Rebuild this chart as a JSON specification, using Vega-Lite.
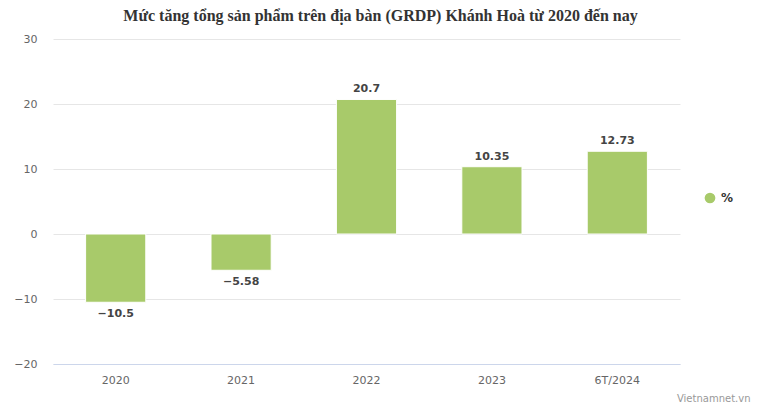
{
  "$schema": "https://vega.github.io/schema/vega-lite/v6.json",
  "width": 627,
  "height": 325,
  "autosize": {"type": "none"},
  "padding": {"left": 53, "top": 39, "right": 79, "bottom": 52},
  "background": "white",
  "title": {
    "text": "Mức tăng tổng sản phẩm trên địa bàn (GRDP) Khánh Hoà từ 2020 đến nay",
    "font": "Liberation Serif",
    "fontSize": 16,
    "fontWeight": "bold",
    "color": "#333333",
    "anchor": "middle",
    "dx": 14,
    "offset": 9
  },
  "config": {
    "view": {"stroke": null},
    "axis": {"labelFont": "DejaVu Sans", "labelFontSize": 11, "labelColor": "#666666", "ticks": false}
  },
  "data": {
    "values": [
      {"nam": "2020", "v": -10.5, "series": "%"},
      {"nam": "2021", "v": -5.58, "series": "%"},
      {"nam": "2022", "v": 20.7, "series": "%"},
      {"nam": "2023", "v": 10.35, "series": "%"},
      {"nam": "6T/2024", "v": 12.73, "series": "%"}
    ]
  },
  "encoding": {
    "x": {
      "field": "nam", "type": "nominal", "sort": null,
      "scale": {"paddingInner": 0.52, "paddingOuter": 0.26},
      "axis": {
        "labelAngle": 0, "labelPadding": 10, "domainColor": "#ccd6eb", "grid": false,
        "title": "Vietnamnet.vn", "titleFont": "DejaVu Sans", "titleFontSize": 10,
        "titleFontWeight": "normal", "titleColor": "#999999",
        "titleAnchor": "end", "titleAlign": "right", "titleX": 697, "titleY": 34, "titleBaseline": "middle"
      }
    },
    "y": {
      "field": "v", "type": "quantitative",
      "scale": {"domain": [-20, 30], "nice": false, "zero": false},
      "axis": {
        "values": [-20, -10, 0, 10, 20, 30], "title": null, "domain": false,
        "gridColor": "#e6e6e6", "labelPadding": 16, "format": "d"
      }
    }
  },
  "layer": [
    {
      "mark": {"type": "bar", "stroke": "white", "strokeWidth": 1},
      "encoding": {
        "color": {
          "field": "series", "type": "nominal",
          "scale": {"range": ["#a8ca6a"]},
          "legend": {
            "title": null, "orient": "none", "legendX": 650, "legendY": 152,
            "symbolType": "circle", "symbolSize": 150, "symbolOpacity": 1,
            "labelFont": "DejaVu Sans", "labelFontSize": 12, "labelFontWeight": "bold", "labelColor": "#333333"
          }
        }
      }
    },
    {
      "transform": [{"filter": "datum.v >= 0"}],
      "mark": {"type": "text", "baseline": "bottom", "dy": -5, "font": "DejaVu Sans", "fontSize": 11, "fontWeight": "bold", "stroke": "white", "strokeWidth": 3, "strokeJoin": "round", "fill": "white"},
      "encoding": {"text": {"field": "v", "type": "quantitative"}}
    },
    {
      "transform": [{"filter": "datum.v >= 0"}],
      "mark": {"type": "text", "baseline": "bottom", "dy": -5, "font": "DejaVu Sans", "fontSize": 11, "fontWeight": "bold", "fill": "#444444"},
      "encoding": {"text": {"field": "v", "type": "quantitative"}}
    },
    {
      "transform": [{"filter": "datum.v < 0"}],
      "mark": {"type": "text", "baseline": "top", "dy": 6, "font": "DejaVu Sans", "fontSize": 11, "fontWeight": "bold", "stroke": "white", "strokeWidth": 3, "strokeJoin": "round", "fill": "white"},
      "encoding": {"text": {"field": "v", "type": "quantitative"}}
    },
    {
      "transform": [{"filter": "datum.v < 0"}],
      "mark": {"type": "text", "baseline": "top", "dy": 6, "font": "DejaVu Sans", "fontSize": 11, "fontWeight": "bold", "fill": "#444444"},
      "encoding": {"text": {"field": "v", "type": "quantitative"}}
    }
  ]
}
